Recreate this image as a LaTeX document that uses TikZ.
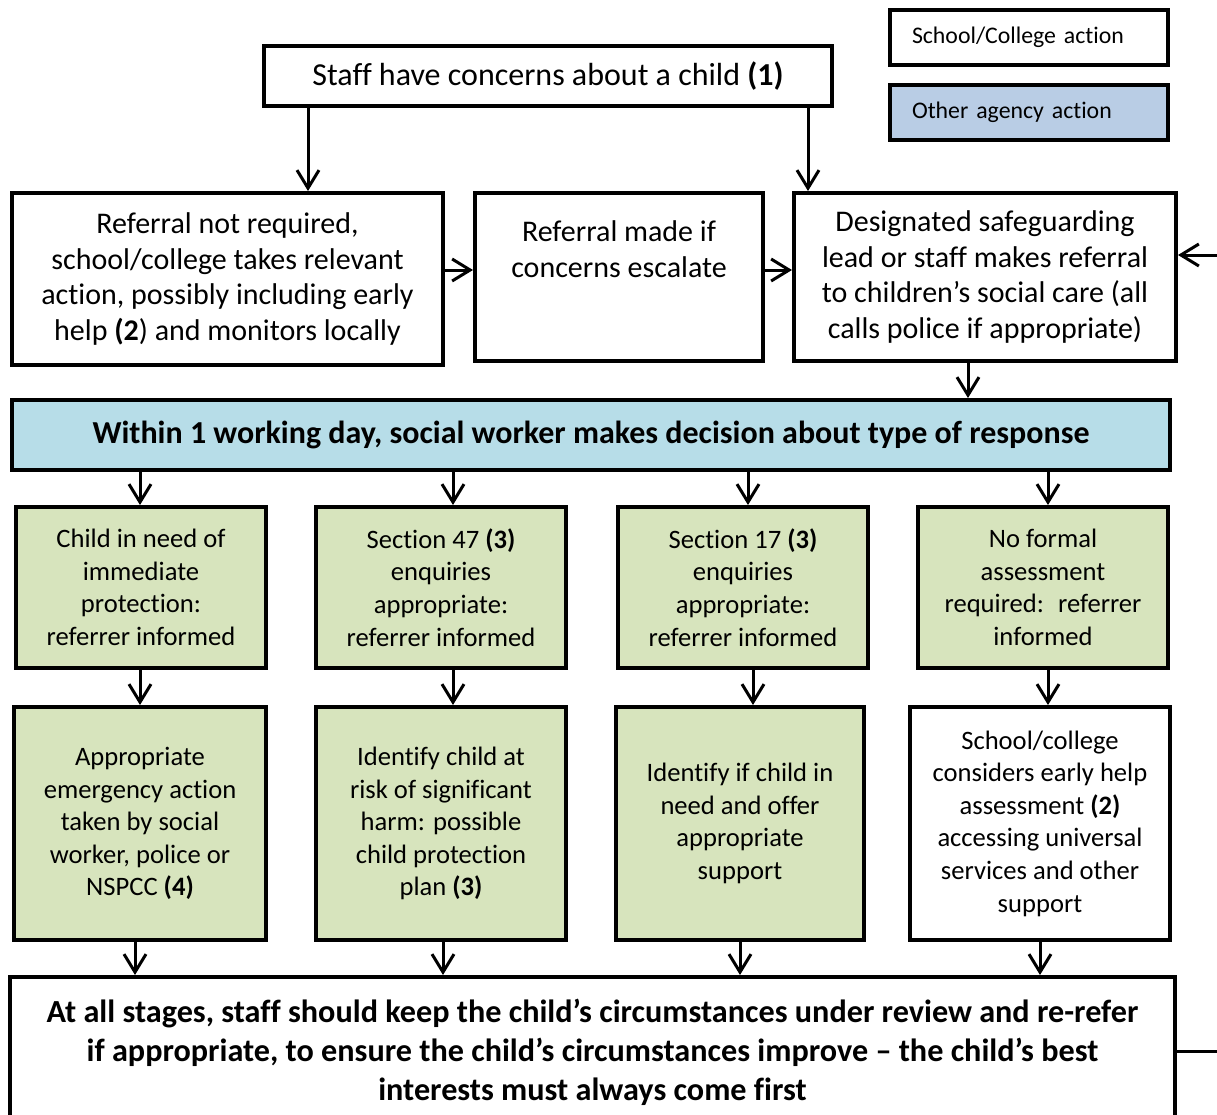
\documentclass[tikz,border=0pt]{standalone}
\usepackage{fontspec}
\setmainfont{Carlito}[Ligatures=NoCommon]
\usetikzlibrary{arrows.meta}
\definecolor{decblue}{RGB}{183,221,232}
\definecolor{agencyblue}{RGB}{185,205,229}
\definecolor{respgreen}{RGB}{215,228,189}
\tikzset{
  box/.style={draw=black, line width=2pt, align=center, inner sep=0pt},
  flow/.style={line width=1.5pt, -{Straight Barb[length=9pt,width=11pt,line width=1.5pt]}},
  topfont/.style={font=\fontsize{15}{17.9}\selectfont},
  resfont/.style={font=\fontsize{13.3}{16.3}\selectfont},
}
\begin{document}
\begin{tikzpicture}[x=0.5pt,y=0.5pt,yscale=-1,xscale=1]
\useasboundingbox (0,0) rectangle (1217,1115);
\clip (0,0) rectangle (1217,1115);

%Shape: Legend
\node [box, minimum width=139pt, minimum height=27.5pt, text width=117pt, align=left, font=\fontsize{11.9}{13}\selectfont] (legsch) at (1029,37.5) {School/College action};
\node [box, fill=agencyblue, minimum width=139pt, minimum height=27.5pt, text width=117pt, align=left, font=\fontsize{11.9}{13}\selectfont] (legag) at (1029,112.5) {Other agency action};

%Shape: Top row
\node [box, minimum width=284pt, minimum height=30pt, font=\fontsize{16}{18}\selectfont] (staff) at (548,76) {Staff have concerns about a child \textbf{(1)}};
\node [box, topfont, minimum width=215.5pt, minimum height=86pt] (noref) at (227.5,279) {Referral not required,\\school/college takes relevant\\action, possibly including early\\help \textbf{(2}) and monitors locally};
\node [box, minimum width=144pt, minimum height=84pt,
  label={[topfont, align=center, anchor=north, yshift=-11.5pt]north:Referral made if\\concerns escalate}] (escal) at (619,277) {};
\node [box, topfont, minimum width=191pt, minimum height=84pt] (dsl) at (985,277) {Designated safeguarding\\lead or staff makes referral\\to children’s social care (all\\calls police if appropriate)};

%Shape: Decision
\node [box, fill=decblue, minimum width=579pt, minimum height=35pt, font=\fontsize{16}{18}\selectfont\bfseries] (decide) at (591,435) {Within 1 working day, social worker makes decision about type of response};

%Shape: Responses
\node [box, resfont, fill=respgreen, minimum width=125pt, minimum height=80.5pt] (immed) at (141,587.5) {Child in need of\\immediate\\protection:\\referrer informed};
\node [box, resfont, fill=respgreen, minimum width=125pt, minimum height=80.5pt] (sfortyseven) at (441,587.5) {Section 47 \textbf{(3)}\\enquiries\\appropriate:\\referrer informed};
\node [box, resfont, fill=respgreen, minimum width=125pt, minimum height=80.5pt] (sseventeen) at (743,587.5) {Section 17 \textbf{(3)}\\enquiries\\appropriate:\\referrer informed};
\node [box, resfont, fill=respgreen, minimum width=125pt, minimum height=80.5pt] (noform) at (1043,587.5) {No formal\\assessment\\required:~ referrer\\informed};

%Shape: Outcomes
\node [box, resfont, fill=respgreen, minimum width=126pt, minimum height=116.5pt] (emerg) at (140,823.5) {Appropriate\\emergency action\\taken by social\\worker, police or\\NSPCC \textbf{(4)}};
\node [box, resfont, fill=respgreen, minimum width=125pt, minimum height=116.5pt] (risk) at (441,823.5) {Identify child at\\risk of significant\\harm: possible\\child protection\\plan \textbf{(3)}};
\node [box, resfont, fill=respgreen, minimum width=124pt, minimum height=116.5pt] (inneed) at (740,823.5) {Identify if child in\\need and offer\\appropriate\\support};
\node [box, resfont, minimum width=130pt, minimum height=116.5pt] (early) at (1040,823.5) {School/college\\considers early help\\assessment \textbf{(2)}\\accessing universal\\services and other\\support};

%Shape: Review
\node [box, minimum width=582.5pt, minimum height=75pt, font=\fontsize{16.1}{19.5}\selectfont\bfseries] (review) at (592.5,1052) {At all stages, staff should keep the child’s circumstances under review and re-refer\\if appropriate, to ensure the child’s circumstances improve – the child’s best\\interests must always come first};
\coordinate (loopin) at (1217,255);
\coordinate (loopout) at (1217,1051);

%Straight Lines
\draw [flow] (staff.south -| 308,0) -- (noref.north -| 308,0);
\draw [flow] (staff.south -| 808,0) -- (dsl.north -| 808,0);
\draw [flow] (noref.east |- 0,270) -- (escal.west |- 0,270);
\draw [flow] (escal.east |- 0,270) -- (dsl.west |- 0,270);
\draw [flow] (loopin) -- (dsl.east |- loopin);
\draw [flow] (dsl.south -| 968,0) -- (decide.north -| 968,0);
\draw [flow] (decide.south -| 140,0) -- (immed.north -| 140,0);
\draw [flow] (decide.south -| 453,0) -- (sfortyseven.north -| 453,0);
\draw [flow] (decide.south -| 748,0) -- (sseventeen.north -| 748,0);
\draw [flow] (decide.south -| 1048,0) -- (noform.north -| 1048,0);
\draw [flow] (immed.south -| 140,0) -- (emerg.north -| 140,0);
\draw [flow] (sfortyseven.south -| 453,0) -- (risk.north -| 453,0);
\draw [flow] (sseventeen.south -| 753,0) -- (inneed.north -| 753,0);
\draw [flow] (noform.south -| 1048,0) -- (early.north -| 1048,0);
\draw [flow] (emerg.south -| 135,0) -- (review.north -| 135,0);
\draw [flow] (risk.south -| 443,0) -- (review.north -| 443,0);
\draw [flow] (inneed.south -| 740,0) -- (review.north -| 740,0);
\draw [flow] (early.south -| 1040,0) -- (review.north -| 1040,0);
\draw [line width=1.5pt] (review.east |- loopout) -- (loopout);

\end{tikzpicture}
\end{document}
